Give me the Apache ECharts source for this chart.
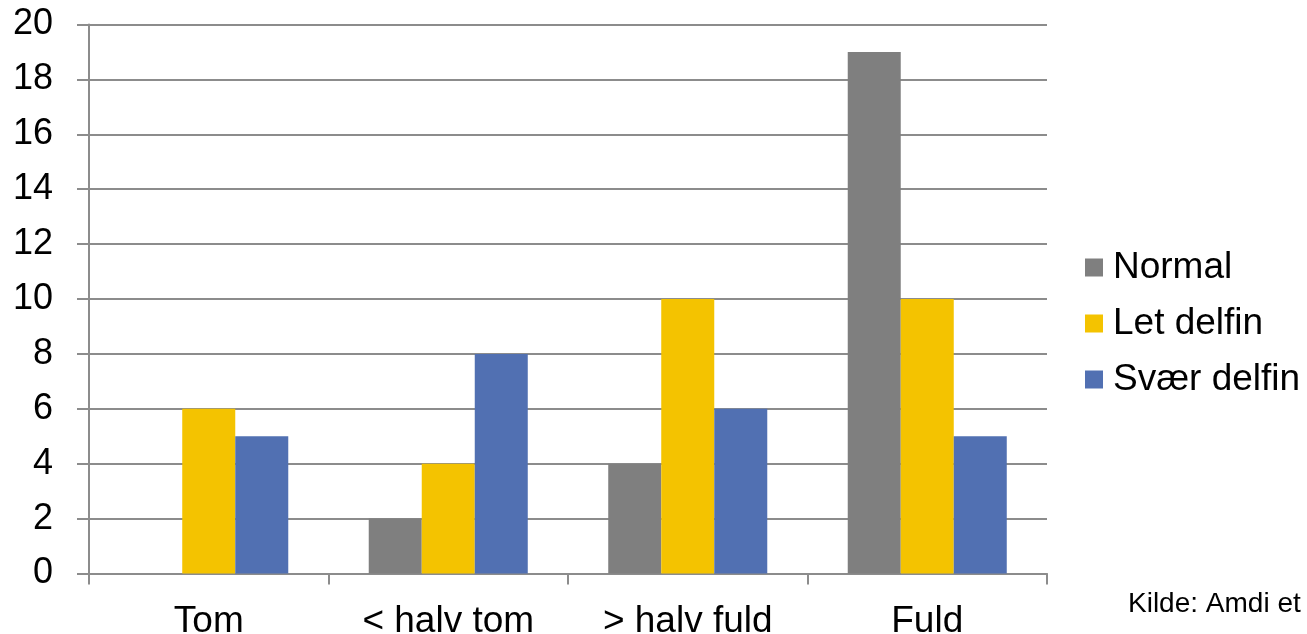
<!DOCTYPE html>
<html>
<head>
<meta charset="utf-8">
<script src="https://cdn.jsdelivr.net/npm/echarts@6/dist/echarts.min.js"></script>
<style>
  html, body { margin: 0; padding: 0; background: #fff; }
  #chart { width: 1307px; height: 634px; }
</style>
</head>
<body>
<div id="chart"></div>
<script>
// data
var categories = ['Tom', '< halv tom', '> halv fuld', 'Fuld'];
var normal = [0, 2, 4, 19];
var letDelfin = [6, 4, 10, 10];
var svaerDelfin = [5, 8, 6, 5];
var seriesNames = ['Normal', 'Let delfin', 'Svær delfin'];
var colors = ['#7f7f7f', '#f4c300', '#5170b2'];

var font = '"Liberation Sans", Arial, sans-serif';
var axisGrey = '#8c8c8c';

var chart = echarts.init(document.getElementById('chart'));

function bar(name, data, color) {
  return {
    name: name,
    type: 'bar',
    data: data,
    barGap: '0%',
    barCategoryGap: '33.6%',
    itemStyle: { color: color },
    emphasis: { disabled: true }
  };
}

var option = {
  animation: false,
  textStyle: { fontFamily: font },
  grid: { left: 89, right: 260, top: 24.5, bottom: 60.5, containLabel: false, outerBoundsMode: 'none' },
  legend: {
    orient: 'vertical',
    left: 1085,
    top: 249,
    padding: 0,
    itemWidth: 18,
    itemHeight: 18,
    itemGap: 19,
    icon: 'rect',
    textStyle: { fontSize: 37, fontFamily: font, color: '#000', lineHeight: 36, padding: [0, 0, 0, 5] },
    data: seriesNames
  },
  xAxis: {
    type: 'category',
    data: categories,
    axisLine: { lineStyle: { color: axisGrey, width: 2 } },
    axisTick: { show: true, length: 11, lineStyle: { color: axisGrey, width: 2 } },
    axisLabel: { fontSize: 37, color: '#000', fontFamily: font, margin: 30 }
  },
  yAxis: {
    type: 'value',
    min: 0,
    max: 20,
    interval: 2,
    axisLine: { show: true, lineStyle: { color: axisGrey, width: 2 } },
    axisTick: { show: true, length: 12, lineStyle: { color: axisGrey, width: 2 } },
    axisLabel: { fontSize: 36, color: '#000', fontFamily: font, margin: 36 },
    splitLine: { lineStyle: { color: axisGrey, width: 2 } }
  },
  graphic: [{
    type: 'text',
    left: 1128,
    top: 590,
    style: { text: 'Kilde: Amdi et', fontSize: 28, fontFamily: font, fill: '#000' }
  }],
  series: [
    bar(seriesNames[0], normal, colors[0]),
    bar(seriesNames[1], letDelfin, colors[1]),
    bar(seriesNames[2], svaerDelfin, colors[2])
  ]
};

chart.setOption(option);
</script>
</body>
</html>
